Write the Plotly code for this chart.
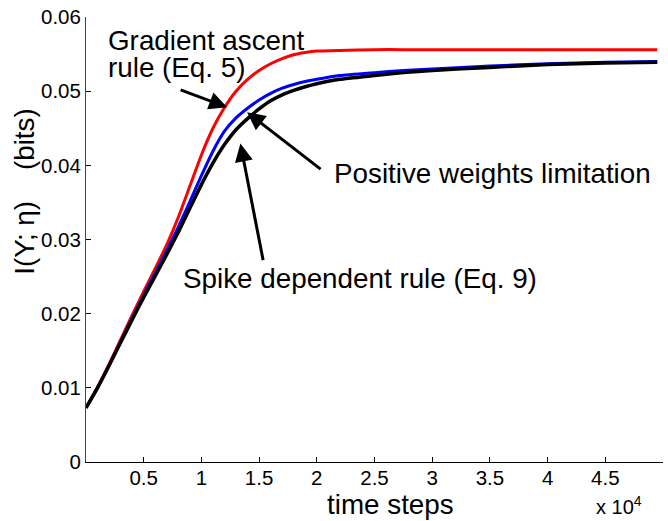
import plotly.graph_objects as go

# time steps (axis shows them in units of 10^4)
t_steps = [0, 1000, 2000, 3000, 4000, 5000, 6000, 7000, 8000, 9000, 10000, 11000, 12000, 13000,
           14000, 15000, 16000, 17000, 18000, 19000, 20000, 22000, 25000, 27500, 30000, 35000,
           40000, 45000, 49500]
gradient_ascent = [0.0073, 0.0101, 0.0132, 0.0165, 0.0198, 0.0230, 0.0261, 0.0293, 0.0330, 0.0372,
                   0.0414, 0.0450, 0.0478, 0.0500, 0.0516, 0.0528, 0.0537, 0.0544, 0.0549, 0.0552,
                   0.0554, 0.0555, 0.0556, 0.0556, 0.0556, 0.0556, 0.0556, 0.0556, 0.0556]
positive_weights = [0.0073, 0.0100, 0.0130, 0.0162, 0.0194, 0.0225, 0.0255, 0.0285, 0.0317, 0.0351,
                    0.0386, 0.0419, 0.0446, 0.0464, 0.0477, 0.0488, 0.0497, 0.0504, 0.0509, 0.0513,
                    0.0516, 0.0521, 0.0525, 0.0528, 0.0530, 0.0534, 0.0537, 0.0539, 0.0540]
spike_dependent = [0.0073, 0.0100, 0.0130, 0.0161, 0.0192, 0.0222, 0.0251, 0.0280, 0.0310, 0.0342,
                   0.0374, 0.0403, 0.0428, 0.0448, 0.0463, 0.0476, 0.0487, 0.0495, 0.0501, 0.0506,
                   0.0510, 0.0516, 0.0521, 0.0525, 0.0528, 0.0532, 0.0536, 0.0538, 0.0539]

x_tickvals = [5000, 10000, 15000, 20000, 25000, 30000, 35000, 40000, 45000, 50000]
x_ticktext = ["0.5", "1", "1.5", "2", "2.5", "3", "3.5", "4", "4.5", "5"]
y_tickvals = [0, 0.01, 0.02, 0.03, 0.04, 0.05, 0.06]
y_ticktext = ["0", "0.01", "0.02", "0.03", "0.04", "0.05", "0.06"]

FONT = "Liberation Sans, Arial, Helvetica, sans-serif"

fig = go.Figure()
for ys, col, w in [(gradient_ascent, "#ff0000", 3), (positive_weights, "#0000ff", 3),
                   (spike_dependent, "#000000", 3.5)]:
    fig.add_trace(go.Scatter(x=t_steps, y=ys, mode="lines",
                             line=dict(color=col, width=w, shape="spline", smoothing=0.5),
                             showlegend=False, hoverinfo="skip"))

fig.update_layout(
    width=668, height=521,
    margin=dict(l=86, r=5, t=12, b=59),
    paper_bgcolor="white", plot_bgcolor="white",
    font=dict(family=FONT, size=20.5, color="black"),
    showlegend=False,
)
fig.update_xaxes(range=[0, 50000], tickvals=x_tickvals, ticktext=x_ticktext,
                 ticks="inside", ticklen=5, tickcolor="black", showline=True, linecolor="black",
                 linewidth=1, showgrid=False, zeroline=False, tickfont=dict(size=20.5),
                 ticklabelstandoff=-3)
fig.update_yaxes(range=[0, 0.06], tickvals=y_tickvals, ticktext=y_ticktext,
                 ticks="inside", ticklen=5, tickcolor="black", showline=True, linecolor="#444444",
                 linewidth=1, showgrid=False, zeroline=False, tickfont=dict(size=20.5))

BIG = 27.8
ann_font = dict(family=FONT, size=BIG, color="black")
# axis titles
fig.add_annotation(text="time steps", xref="paper", yref="paper", x=0.527, y=-0.095,
                   xanchor="center", yanchor="middle", showarrow=False, font=ann_font)
fig.add_annotation(text="x 10<sup>4</sup>", xref="paper", yref="paper", x=0.880, y=-0.098,
                   xanchor="left", yanchor="middle", showarrow=False,
                   font=dict(family=FONT, size=20))
fig.add_annotation(text="I(Y; η)    (bits)", xref="paper", yref="paper", x=-0.106, y=0.609,
                   xanchor="center", yanchor="middle", textangle=-90, showarrow=False,
                   font=ann_font)

# labels with arrows
fig.add_annotation(text="Gradient ascent", x=1700, y=0.0568, xanchor="left",
                   yanchor="middle", showarrow=False, font=ann_font)
fig.add_annotation(text="rule (Eq. 5)", x=1700, y=0.0532, xanchor="left",
                   yanchor="middle", showarrow=False, font=ann_font)
fig.add_annotation(text="Positive weights limitation", x=21300, y=0.0389, xanchor="left",
                   yanchor="middle", showarrow=False, font=ann_font)
fig.add_annotation(text="Spike dependent rule (Eq. 9)", x=8200, y=0.0248, xanchor="left",
                   yanchor="middle", showarrow=False, font=ann_font)

arrow_style = dict(showarrow=True, arrowhead=2, arrowsize=1.2, arrowwidth=3, arrowcolor="black",
                   text="", standoff=0)
fig.add_annotation(x=12230, y=0.04783, ax=-48, ay=-18, **arrow_style)
fig.add_annotation(x=13960, y=0.04716, ax=75, ay=58, **arrow_style)
fig.add_annotation(x=13380, y=0.04293, ax=23, ay=118, **arrow_style)

fig.write_html("out.html")
